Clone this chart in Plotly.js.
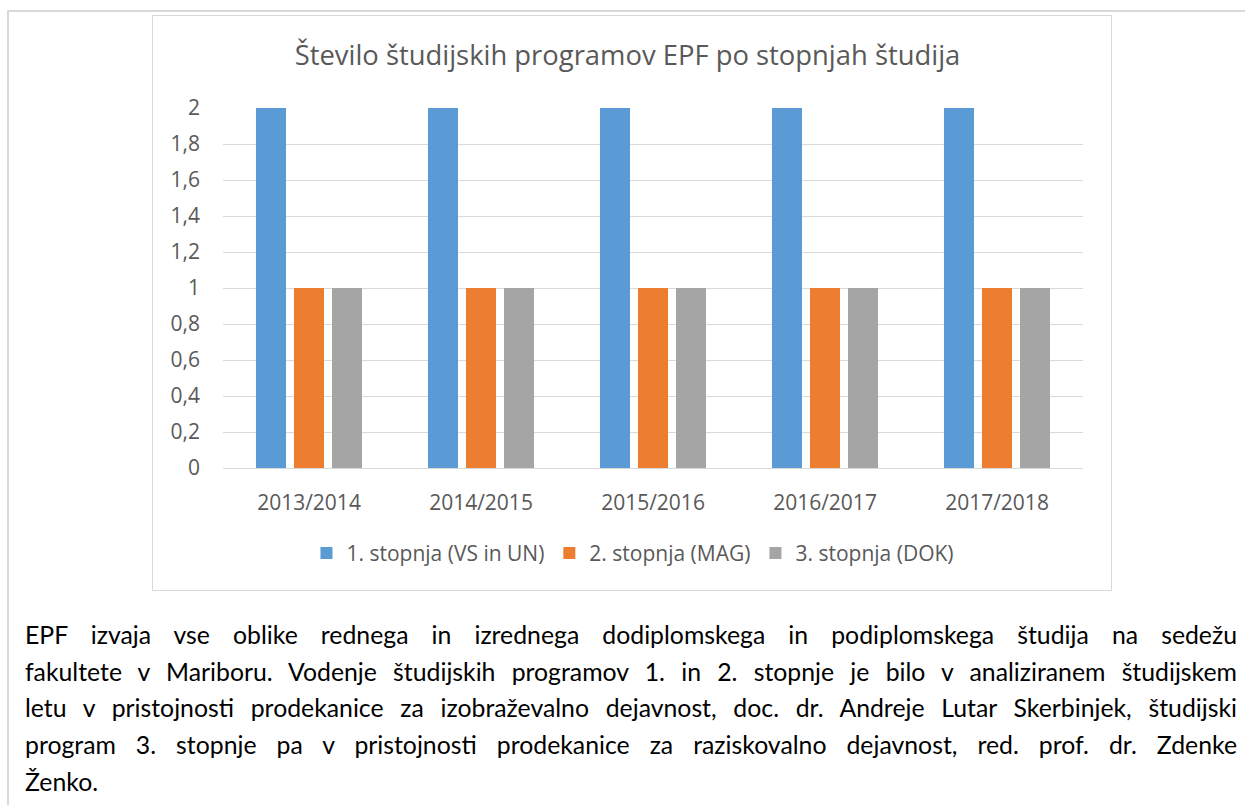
<!DOCTYPE html>
<html>
<head>
<meta charset="utf-8">
<script src="https://cdn.plot.ly/plotly-3.0.1.min.js"></script>
<style>
  html, body { margin: 0; padding: 0; background: #ffffff; width: 1245px; height: 805px; overflow: hidden; }
  #frame { position: absolute; left: 7px; top: 10px; width: 1300px; height: 900px;
           border-top: 2px solid #d9d9d9; border-left: 2px solid #d9d9d9; }
  #chartbox { position: absolute; left: 152px; top: 15px; width: 958px; height: 574px;
              border: 1px solid #d9d9d9; background: #fff; }
  #chart { width: 958px; height: 574px; }
  #para { position: absolute; left: 25px; top: 617px; width: 1212px;
          font-family: Lato, "Noto Sans", sans-serif; font-size: 24.8px; line-height: 36.7px; color: #000; }
  #para .l { display: block; white-space: nowrap; text-align: justify; text-align-last: justify; }
  #para .last { text-align-last: left; }
</style>
</head>
<body>
<div id="frame"></div>
<div id="chartbox"><div id="chart"></div></div>
<div id="para">
  <span class="l">EPF izvaja vse oblike rednega in izrednega dodiplomskega in podiplomskega študija na sedežu</span>
  <span class="l">fakultete v Mariboru. Vodenje študijskih programov 1. in 2. stopnje je bilo v analiziranem študijskem</span>
  <span class="l">letu v pristojnosti prodekanice za izobraževalno dejavnost, doc. dr. Andreje Lutar Skerbinjek, študijski</span>
  <span class="l">program 3. stopnje pa v pristojnosti prodekanice za raziskovalno dejavnost, red. prof. dr. Zdenke</span>
  <span class="l last">Ženko.</span>
</div>
<script>
const categories = ['2013/2014', '2014/2015', '2015/2016', '2016/2017', '2017/2018'];
const seriesNames = ['1. stopnja (VS in UN)', '2. stopnja (MAG)', '3. stopnja (DOK)'];
const stopnja1 = [2, 2, 2, 2, 2];
const stopnja2 = [1, 1, 1, 1, 1];
const stopnja3 = [1, 1, 1, 1, 1];
const colors = ['#5B9BD5', '#ED7D31', '#A5A5A5'];
const chartTitle = 'Število študijskih programov EPF po stopnjah študija';

const values = [stopnja1, stopnja2, stopnja3];
const traces = values.map((v, i) => ({
  type: 'bar',
  x: categories,
  y: v,
  name: seriesNames[i],
  marker: { color: colors[i], line: { width: 0 } },
  hoverinfo: 'x+y+name'
}));

const font = { family: '"Open Sans", "Noto Sans", sans-serif', color: '#595959' };

const layout = {
  width: 958,
  height: 574,
  margin: { l: 70, r: 28, t: 92, b: 122, pad: 0 },
  paper_bgcolor: '#ffffff',
  plot_bgcolor: '#ffffff',
  separators: ', ',
  font: Object.assign({ size: 21 }, font),
  title: {
    text: chartTitle,
    font: Object.assign({ size: 27.4 }, font),
    xref: 'container', x: 0.4953, xanchor: 'center',
    yref: 'container', y: 0.932, yanchor: 'middle'
  },
  barmode: 'group',
  bargap: 0.337,
  bargroupgap: 0.21,
  xaxis: {
    type: 'category',
    showgrid: false,
    showline: false,
    ticks: '',
    ticklabelstandoff: 20,
    tickfont: Object.assign({ size: 21 }, font)
  },
  yaxis: {
    range: [0, 2],
    dtick: 0.2,
    tick0: 0,
    showgrid: true,
    gridcolor: '#d9d9d9',
    gridwidth: 1,
    zeroline: true,
    zerolinecolor: '#d9d9d9',
    zerolinewidth: 1,
    showline: false,
    ticks: '',
    ticklabelstandoff: 22,
    tickfont: Object.assign({ size: 21 }, font),
    fixedrange: true
  },
  showlegend: true,
  legend: {
    orientation: 'h',
    xref: 'container', x: 0.501, xanchor: 'center',
    yref: 'container', y: 0.064, yanchor: 'middle',
    font: Object.assign({ size: 21 }, font),
    itemwidth: 30,
    traceorder: 'normal'
  }
};

Plotly.newPlot('chart', traces, layout, { displayModeBar: false, staticPlot: true });
</script>
</body>
</html>
